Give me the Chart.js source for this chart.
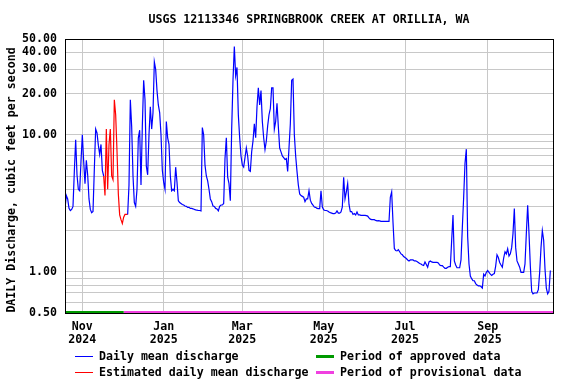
<!DOCTYPE html>
<html>
<head>
<meta charset="utf-8">
<script src="https://cdn.jsdelivr.net/npm/chart.js@4.4.0/dist/chart.umd.min.js"></script>
<style>
  html, body { margin: 0; padding: 0; background: #fff; }
  canvas { display: block; }
</style>
</head>
<body>
<canvas id="flowChart" width="576" height="384"></canvas>
<script>
// daily mean discharge, one value per day starting at startDate (cfs)
const startDate = '2024-10-19';
const endDate = '2025-10-20';
const flow = [
  2.9, 3.6, 3.4, 2.9, 2.8, 2.85, 3.0, 5.4, 9.2, 5.1,
  4.0, 3.9, 6.4, 10.0, 6.4, 4.4, 6.5, 5.1, 3.4, 2.85,
  2.7, 2.75, 5.6, 11.0, 10.3, 8.4, 7.2, 8.5, 5.5, 5.0,
  3.6, 11.0, 4.0, 8.5, 11.0, 5.0, 4.7, 18.0, 14.0, 7.6,
  3.7, 2.6, 2.4, 2.25, 2.5, 2.62, 2.62, 2.62, 4.3, 18.0,
  11.5, 5.0, 3.2, 3.0, 4.0, 9.5, 10.8, 4.3, 11.6, 25,
  18, 5.9, 5.1, 10, 16, 11, 14.5, 34, 30, 21,
  16.5, 14.5, 10, 5.5, 4.5, 4.0, 12.5, 9.5, 8.5, 5.0,
  3.9, 4.0, 3.9, 5.8, 4.5, 3.3, 3.2, 3.15, 3.1, 3.07,
  3.02, 3.0, 2.95, 2.95, 2.9, 2.9, 2.88, 2.85, 2.83, 2.82,
  2.8, 2.8, 2.78, 11.3, 10.0, 6.0, 5.0, 4.6, 4.0, 3.4,
  3.25, 3.02, 3.0, 2.9, 2.87, 2.78, 3.0, 3.07, 3.07, 3.15,
  6.7, 9.5, 4.9, 4.4, 3.3, 10.9, 25, 44, 27, 31,
  14, 9.5, 7.0, 6.0, 5.8, 6.8, 8.0, 7.0, 5.5, 5.4,
  7.5, 9.0, 12, 9.5, 16, 22, 16.5, 21, 12.5, 9.5,
  7.8, 9.0, 11.6, 14, 15.5, 22, 22, 11, 12.5, 17,
  11.5, 8.0, 7.5, 7.0, 6.8, 6.6, 6.7, 5.4, 8, 12,
  25, 25.5, 10, 7.0, 5.4, 4.3, 3.7, 3.6, 3.55, 3.5,
  3.25, 3.4, 3.4, 3.9, 3.33, 3.15, 3.06, 2.97, 2.95, 2.9,
  2.89, 2.89, 3.9, 2.97, 2.83, 2.8, 2.8, 2.78, 2.73, 2.7,
  2.68, 2.66, 2.66, 2.68, 2.78, 2.68, 2.68, 2.73, 2.97, 4.9,
  3.4, 3.83, 4.4, 3.1, 2.75, 2.75, 2.62, 2.66, 2.6, 2.73,
  2.6, 2.6, 2.58, 2.58, 2.58, 2.58, 2.57, 2.55, 2.47, 2.42,
  2.4, 2.4, 2.4, 2.37, 2.35, 2.36, 2.35, 2.33, 2.33, 2.33,
  2.33, 2.33, 2.33, 2.33, 3.5, 3.83, 2.3, 1.48, 1.43, 1.42,
  1.45, 1.4, 1.35, 1.33, 1.29, 1.27, 1.25, 1.22, 1.2, 1.22,
  1.22, 1.22, 1.2, 1.2, 1.19, 1.17, 1.15, 1.14, 1.12, 1.11,
  1.18, 1.13, 1.08, 1.18, 1.2, 1.18, 1.17, 1.17, 1.17, 1.17,
  1.16, 1.12, 1.11, 1.11, 1.08, 1.06, 1.06, 1.08, 1.09, 1.09,
  1.69, 2.6, 1.2, 1.12, 1.07, 1.07, 1.07, 1.22, 2.1, 3.5,
  6.2, 7.85, 1.8, 1.14, 0.93, 0.89, 0.86, 0.86, 0.82, 0.8,
  0.79, 0.79, 0.78, 0.76, 0.96, 0.93, 0.99, 1.02, 0.99, 0.96,
  0.94, 0.96, 0.97, 1.1, 1.33, 1.27, 1.17, 1.12, 1.08, 1.26,
  1.4, 1.35, 1.47, 1.3, 1.35, 1.5, 1.9, 2.89, 1.5, 1.2,
  1.14, 1.08, 0.99, 0.99, 0.99, 1.14, 1.9, 3.06, 1.9, 1.1,
  0.72, 0.69, 0.7, 0.7, 0.7, 0.74, 0.99, 1.5, 2.0, 1.7,
  1.05, 0.76, 0.69, 0.72, 1.02
];
const estimatedFrom = '2024-11-17';
const estimatedTo = '2024-12-05';
const approvedTo = '2024-12-02';

const monthTicks = ['2024-11-01', '2025-01-01', '2025-03-01', '2025-05-01', '2025-07-01', '2025-09-01'];
const monthLabels = [['Nov', '2024'], ['Jan', '2025'], ['Mar', '2025'], ['May', '2025'], ['Jul', '2025'], ['Sep', '2025']];
const yGridValues = [0.5, 0.6, 0.7, 0.8, 0.9, 1, 2, 3, 4, 5, 6, 7, 8, 9, 10, 20, 30, 40, 50];
const yTickLabels = [0.5, 1, 10, 20, 30, 40, 50];

const FONT = 'bold 11.6px "DejaVu Sans Mono"';

const dayOf = s => (Date.parse(s) - Date.parse(startDate)) / 86400000;
const estA = dayOf(estimatedFrom), estB = dayOf(estimatedTo);
const yMin = yGridValues[0], yMax = yGridValues[yGridValues.length - 1];

const meanPts = flow.map((v, i) => ({ x: i, y: (i > estA && i < estB) ? null : v }));
const estPts = flow.map((v, i) => ({ x: i, y: v })).filter(p => p.x >= estA && p.x <= estB);

// frame, title, axis title and legend
const decorations = {
    id: 'decorations',
    afterDatasetsDraw(chart) {
        const { ctx, chartArea: a } = chart;
        ctx.save();
        ctx.strokeStyle = '#000';
        ctx.lineWidth = 1;
        ctx.strokeRect(a.left + 0.5, a.top + 0.5, a.right - a.left, a.bottom - a.top);
        ctx.restore();
    },
    afterDraw(chart) {
        const { ctx, chartArea: a } = chart;
        ctx.save();
        ctx.font = FONT;
        ctx.fillStyle = '#000';
        ctx.textBaseline = 'middle';

        ctx.textAlign = 'center';
        ctx.fillText('USGS 12113346 SPRINGBROOK CREEK AT ORILLIA, WA', (a.left + a.right) / 2, 19.5);

        ctx.save();
        ctx.translate(12, 180);
        ctx.rotate(-Math.PI / 2);
        ctx.fillText('DAILY Discharge, cubic feet per second', 0, 0);
        ctx.restore();

        // legend: two columns, two rows
        const cols = [75, 316];
        const rows = [356.5, 372.5];
        ctx.textAlign = 'left';
        chart.data.datasets.forEach((ds, i) => {
            const x = cols[Math.floor(i / 2)], y = rows[i % 2];
            ctx.strokeStyle = ds.borderColor;
            ctx.lineWidth = ds.borderWidth > 2 ? 3 : 1;
            ctx.beginPath();
            ctx.moveTo(x, y);
            ctx.lineTo(x + 18, y);
            ctx.stroke();
            ctx.fillText(ds.label, x + 24, y + 0.5);
        });
        ctx.restore();
    }
};

const edgeClip = { left: 0, top: 0, right: 0, bottom: 0 };

new Chart(document.getElementById('flowChart'), {
    type: 'line',
    data: {
        datasets: [
            { label: 'Daily mean discharge', data: meanPts, borderColor: '#0000ff', borderWidth: 1.2, spanGaps: false },
            { label: 'Estimated daily mean discharge', data: estPts, borderColor: '#ff0000', borderWidth: 1.2 },
            { label: 'Period of approved data', data: [{ x: 0, y: yMin }, { x: dayOf(approvedTo), y: yMin }], borderColor: '#009900', borderWidth: 4, clip: edgeClip },
            { label: 'Period of provisional data', data: [{ x: dayOf(approvedTo), y: yMin }, { x: dayOf(endDate), y: yMin }], borderColor: '#f040e0', borderWidth: 4, clip: edgeClip }
        ]
    },
    options: {
        responsive: false,
        animation: false,
        devicePixelRatio: 1,
        elements: { point: { radius: 0 }, line: { tension: 0 } },
        layout: { padding: { top: 39, right: 23, bottom: 0, left: 0 } },
        plugins: { legend: { display: false }, title: { display: false }, tooltip: { enabled: false } },
        scales: {
            x: {
                type: 'linear',
                min: 0,
                max: dayOf(endDate),
                afterFit: s => { s.height = 71; },
                afterBuildTicks: s => { s.ticks = monthTicks.map(d => ({ value: dayOf(d) })); },
                ticks: {
                    autoSkip: false, maxRotation: 0, padding: 7, color: '#000',
                    font: { family: 'DejaVu Sans Mono', size: 11.6, weight: 'bold', lineHeight: 13.4 / 11.6 },
                    callback: (v, i) => monthLabels[i]
                },
                grid: { color: '#c8c8c8', lineWidth: 1, drawTicks: false },
                border: { display: false }
            },
            y: {
                type: 'logarithmic',
                min: yMin,
                max: yMax,
                afterFit: s => { s.width = 65; },
                afterBuildTicks: s => { s.ticks = yGridValues.map(v => ({ value: v })); },
                ticks: {
                    autoSkip: false, padding: 8, color: '#000',
                    font: { family: 'DejaVu Sans Mono', size: 11.6, weight: 'bold' },
                    callback: v => yTickLabels.includes(v) ? v.toFixed(2) : ''
                },
                grid: { color: '#c8c8c8', lineWidth: 1, drawTicks: false },
                border: { display: false }
            }
        }
    },
    plugins: [decorations]
});
</script>
</body>
</html>
